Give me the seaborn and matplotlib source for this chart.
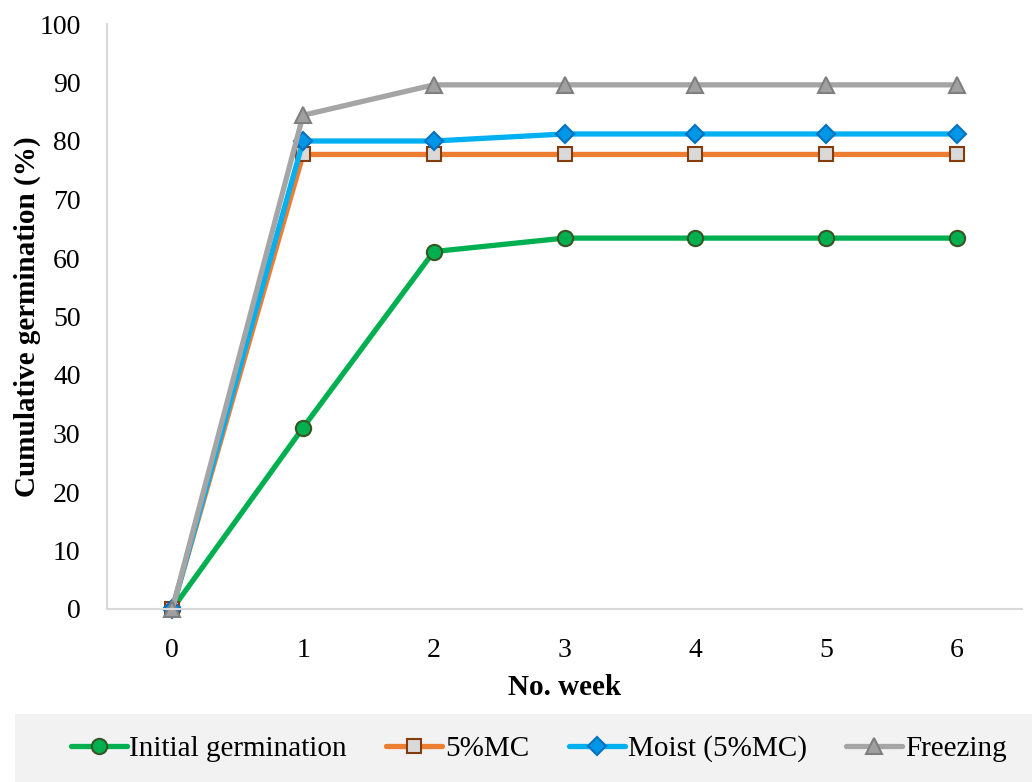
import matplotlib
matplotlib.use("Agg")
import matplotlib.pyplot as plt
import seaborn as sns
import pandas as pd
from matplotlib.patches import Rectangle

weeks = [0, 1, 2, 3, 4, 5, 6]
initial_germination = [0, 31.0, 61.1, 63.4, 63.4, 63.4, 63.4]
mc5 = [0, 77.7, 77.7, 77.7, 77.7, 77.7, 77.7]
moist_mc5 = [0, 80.0, 80.0, 81.2, 81.2, 81.2, 81.2]
freezing = [0, 84.4, 89.6, 89.6, 89.6, 89.6, 89.6]

series_names = ["Initial germination", "5%MC", "Moist (5%MC)", "Freezing"]
series_values = [initial_germination, mc5, moist_mc5, freezing]

sns.set_theme(style="white")
plt.rcParams['font.family'] = ['Liberation Serif', 'DejaVu Serif']
plt.rcParams['text.color'] = 'black'
plt.rcParams['axes.labelcolor'] = 'black'

styles = {
    "Initial germination": dict(color="#00b050", marker="o", mfc="#00b050", mec="#375623", ms=11),
    "5%MC": dict(color="#ed7d31", marker="s", mfc="#d9d9d9", mec="#843c0c", ms=10),
    "Moist (5%MC)": dict(color="#00b0f0", marker="D", mfc="#0096e6", mec="#0070c0", ms=9),
    "Freezing": dict(color="#a5a5a5", marker="^", mfc="#a0a0a0", mec="#7f7f7f", ms=11),
}

fig = plt.figure(figsize=(10.32, 7.82), dpi=100)
ax = fig.add_axes([107/1032, 1-609/782, (1022-107)/1032, (609-24)/782])

for name, vals in zip(series_names, series_values):
    df = pd.DataFrame({"week": weeks, "value": vals})
    st = styles[name]
    sns.lineplot(data=df, x="week", y="value", ax=ax, color=st["color"], linewidth=3.8,
                 marker=st["marker"], markersize=st["ms"], markerfacecolor=st["mfc"],
                 markeredgecolor=st["mec"], markeredgewidth=1.5, label=name, legend=False,
                 clip_on=False)

ax.set_xlim(-0.5, 6.5)
ax.set_ylim(0, 100)
ax.set_xticks(weeks)
ax.set_xticklabels([str(w) for w in weeks])
ax.set_yticks(range(0, 101, 10))
ax.tick_params(axis="both", labelsize=20, length=0, colors="black")
ax.tick_params(axis="y", pad=19)
ax.tick_params(axis="x", pad=21)
for s in ["top", "right"]:
    ax.spines[s].set_visible(False)
for s in ["left", "bottom"]:
    ax.spines[s].set_color("#d9d9d9")
    ax.spines[s].set_linewidth(1.5)

ax.set_xlabel("No. week", fontsize=21, fontweight="bold", labelpad=8, color="black")
ax.set_ylabel("Cumulative germination (%)", fontsize=21, fontweight="bold", color="black")
ax.yaxis.set_label_coords((41 - 107) / 915, 0.5)

fig.patches.append(Rectangle((15/1032, 0), 1-15/1032, (782-714)/782, transform=fig.transFigure,
                             facecolor="#f2f2f2", edgecolor="none", zorder=0))

handles, labels = ax.get_legend_handles_labels()
leg = fig.legend(handles, labels, loc="center", bbox_to_anchor=(0.522, 1-749/782), ncol=4,
                 frameon=False, fontsize=21, handlelength=1.92, handletextpad=0.1,
                 columnspacing=1.35)
for t in leg.get_texts():
    t.set_color("black")

fig.savefig("out.png", dpi=100)
